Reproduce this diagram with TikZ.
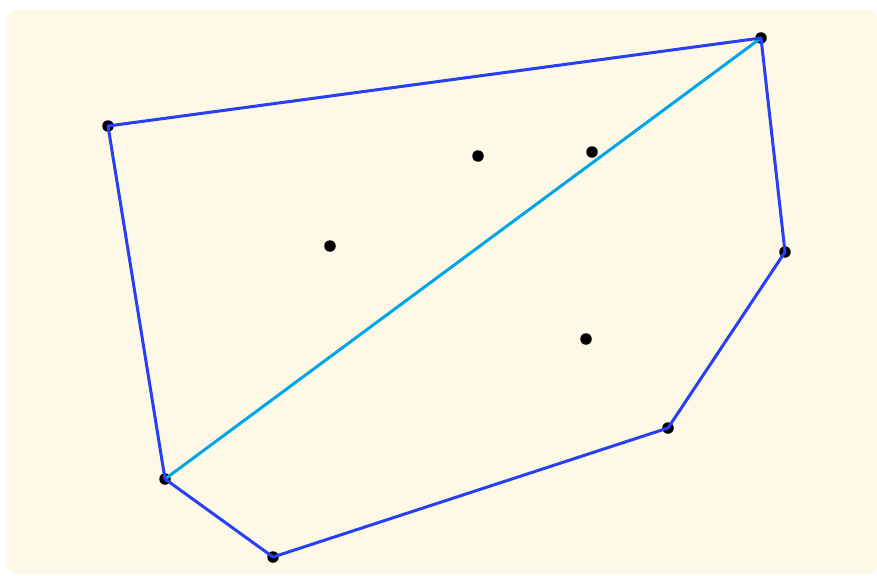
\documentclass[tikz,border=0pt]{standalone}
\definecolor{bgcream}{RGB}{254,249,230}
\definecolor{hullblue}{RGB}{40,64,245}
\definecolor{diagcyan}{RGB}{0,166,232}
\tikzset{
  pt/.style={circle,fill=black,inner sep=0pt,minimum size=11.5pt},
  hull/.style={draw=hullblue,line width=3pt,line join=round},
  diag/.style={draw=diagcyan,line width=3pt}
}
\begin{document}
\begin{tikzpicture}[x=1pt,y=-1pt]
\useasboundingbox (0,0) rectangle (877,575);
\fill[bgcream,rounded corners=10pt] (7,10) rectangle (877,574);
\node[pt] (a) at (108,126) {};
\node[pt] (b) at (761,38) {};
\node[pt] (c) at (785,252) {};
\node[pt] (d) at (668,428) {};
\node[pt] (e) at (273,557) {};
\node[pt] (f) at (165,479) {};
\node[pt] (p1) at (478,156) {};
\node[pt] (p2) at (592,152) {};
\node[pt] (p3) at (330,246) {};
\node[pt] (p4) at (586,339) {};
\draw[diag] (f.center) -- (b.center);
\draw[hull] (a.center) -- (b.center) -- (c.center) -- (d.center) -- (e.center) -- (f.center) -- cycle;
\end{tikzpicture}
\end{document}
